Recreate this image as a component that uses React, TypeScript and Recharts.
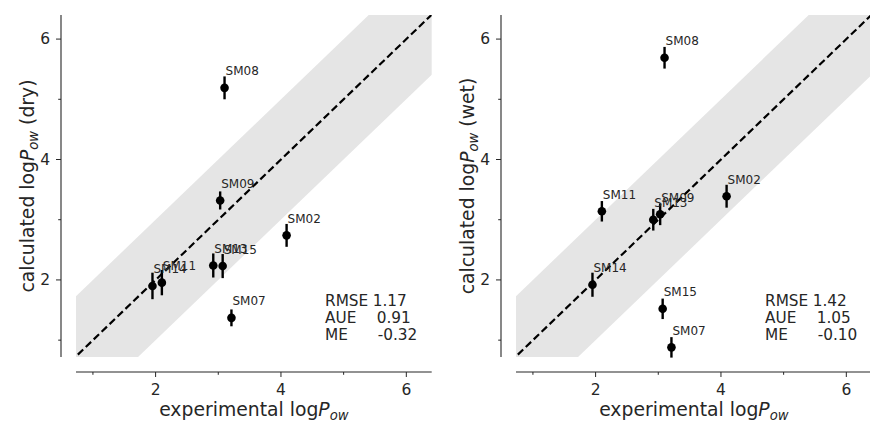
import { ComposedChart, Area, Line, Scatter, ErrorBar, XAxis, YAxis } from 'recharts';

// compounds and their experimental logP values
const NAMES = ['SM02', 'SM07', 'SM08', 'SM09', 'SM11', 'SM13', 'SM14', 'SM15'];
const EXP = [4.09, 3.21, 3.10, 3.03, 2.10, 2.92, 1.95, 3.07];

// calculated values, dry and wet, with their uncertainties
const CALC_DRY = [2.74, 1.37, 5.19, 3.32, 1.955, 2.24, 1.90, 2.23];
const ERR_DRY = [0.19, 0.14, 0.19, 0.15, 0.21, 0.20, 0.22, 0.20];
const CALC_WET = [3.39, 0.88, 5.69, 3.09, 3.14, 3.00, 1.92, 1.52];
const ERR_WET = [0.19, 0.17, 0.18, 0.18, 0.17, 0.18, 0.20, 0.17];

// summary statistics printed in each panel
const STATS_DRY = [['RMSE', '1.17'], ['AUE', '0.91'], ['ME', '-0.32']];
const STATS_WET = [['RMSE', '1.42'], ['AUE', '1.05'], ['ME', '-0.10']];

// y = x reference and the +/- 1 log unit band around it
const REF_X = [0, 7];
const REF_Y = [0, 7];
const BAND_LO = [-1, 6];
const BAND_HI = [1, 8];

const TICKS = [1, 2, 3, 4, 5, 6];
const X_DOMAIN: [number, number] = [0.73, 6.405];
const Y_DOMAIN: [number, number] = [0.72, 6.4];

const FONT = '"DejaVu Sans", sans-serif';
const INK = '#262626';
const SPINE_OFFSET = 15;

const PANEL_W = 440;
const PLOT = { left: 76, top: 15, width: 355.7, height: 342 };

const refData = REF_X.map((x, i) => ({ x, band: [BAND_LO[i], BAND_HI[i]], diag: REF_Y[i] }));

function points(calc: number[], err: number[]) {
  return NAMES.map((name, i) => ({ name, x: EXP[i], y: calc[i], err: err[i] }));
}

function YTick(props: any) {
  const { x, y, payload } = props;
  const major = payload.value % 2 === 0;
  const ax = x - SPINE_OFFSET;
  return (
    <g>
      <line x1={ax - (major ? 5 : 2.8)} x2={ax} y1={y} y2={y} stroke={INK} strokeWidth={1} />
      {major && (
        <text x={ax - 11} y={y} textAnchor="end" dominantBaseline="central" fill={INK} fontSize={15.5} fontFamily={FONT}>
          {payload.value}
        </text>
      )}
    </g>
  );
}

function XTick(props: any) {
  const { x, y, payload } = props;
  const major = payload.value % 2 === 0;
  const ay = y + SPINE_OFFSET;
  return (
    <g>
      <line x1={x} x2={x} y1={ay} y2={ay + (major ? 5 : 2.8)} stroke={INK} strokeWidth={1} />
      {major && (
        <text x={x} y={ay + 23} textAnchor="middle" fill={INK} fontSize={15.5} fontFamily={FONT}>
          {payload.value}
        </text>
      )}
    </g>
  );
}

function Dot(props: any) {
  const { cx, cy, payload } = props;
  return (
    <g>
      <circle cx={cx} cy={cy} r={4.3} fill="#000" />
      <text x={cx + 1} y={cy - 12.5} fill={INK} fontSize={12} fontFamily={FONT}>
        {payload.name}
      </text>
    </g>
  );
}

function Panel({ calc, err, stats, tag, left }: {
  calc: number[]; err: number[]; stats: string[][]; tag: string; left: number;
}) {
  const data = points(calc, err);
  // axes are 1px thick boxes; the margin makes up the rest of the offset
  const right = PANEL_W - PLOT.left - PLOT.width;
  const bottom = 423 - PLOT.top - PLOT.height - 1;
  const spineX = PLOT.left - SPINE_OFFSET;
  const spineY = PLOT.top + PLOT.height + SPINE_OFFSET;
  return (
    <div style={{ position: 'absolute', left, top: 0, width: PANEL_W, height: 423 }}>
      <ComposedChart
        width={PANEL_W}
        height={423}
        data={refData}
        margin={{ top: PLOT.top, right, bottom, left: PLOT.left - 1 }}
      >
        <XAxis
          type="number"
          dataKey="x"
          domain={X_DOMAIN}
          allowDataOverflow
          ticks={TICKS}
          interval={0}
          height={1}
          axisLine={false}
          tickLine={false}
          tickSize={0}
          tickMargin={0}
          tick={<XTick />}
        />
        <YAxis
          type="number"
          domain={Y_DOMAIN}
          allowDataOverflow
          ticks={TICKS}
          interval={0}
          width={1}
          axisLine={false}
          tickLine={false}
          tickSize={0}
          tickMargin={0}
          tick={<YTick />}
        />
        <Area
          dataKey="band"
          type="linear"
          fill="#e5e5e5"
          fillOpacity={1}
          stroke="none"
          isAnimationActive={false}
        />
        <Line
          dataKey="diag"
          type="linear"
          stroke="#000"
          strokeWidth={2.2}
          strokeDasharray="7.4 3.6"
          dot={false}
          activeDot={false}
          isAnimationActive={false}
        />
        <Scatter data={data} dataKey="y" shape={<Dot />} isAnimationActive={false}>
          <ErrorBar dataKey="err" direction="y" width={0} stroke="#000" strokeWidth={2.4} />
        </Scatter>
      </ComposedChart>
      <svg
        width={PANEL_W}
        height={423}
        style={{ position: 'absolute', left: 0, top: 0, pointerEvents: 'none' }}
        fontFamily={FONT}
        fill={INK}
      >
        <line x1={spineX} x2={spineX} y1={PLOT.top} y2={PLOT.top + PLOT.height} stroke={INK} strokeWidth={1.1} />
        <line x1={PLOT.left} x2={PLOT.left + PLOT.width} y1={spineY} y2={spineY} stroke={INK} strokeWidth={1.1} />
        <text x={PLOT.left + PLOT.width / 2} y={416} textAnchor="middle" fontSize={18.8}>
          experimental log<tspan fontStyle="italic">P</tspan>
          <tspan fontStyle="italic" fontSize={13.2} dy={4}>ow</tspan>
        </text>
        <text transform={`translate(34, 186) rotate(-90)`} textAnchor="middle" fontSize={18.8}>
          calculated log<tspan fontStyle="italic">P</tspan>
          <tspan fontStyle="italic" fontSize={13.2} dy={4}>ow</tspan>
          <tspan dy={-4}>{` (${tag})`}</tspan>
        </text>
        {stats.map(([k, v], i) => (
          <text key={k} y={305.7 + i * 17.2} fontSize={15.3}>
            <tspan x={325}>{k}</tspan>
            <tspan x={k === 'RMSE' ? 372.7 : k === 'AUE' ? 376.7 : 377.7}>{v}</tspan>
          </text>
        ))}
      </svg>
    </div>
  );
}

export default function App() {
  return (
    <div style={{ position: 'absolute', left: 0, top: 0, width: 870, height: 423, overflow: 'hidden', background: '#fff' }}>
      <Panel calc={CALC_DRY} err={ERR_DRY} stats={STATS_DRY} tag="dry" left={0} />
      <Panel calc={CALC_WET} err={ERR_WET} stats={STATS_WET} tag="wet" left={440} />
    </div>
  );
}
